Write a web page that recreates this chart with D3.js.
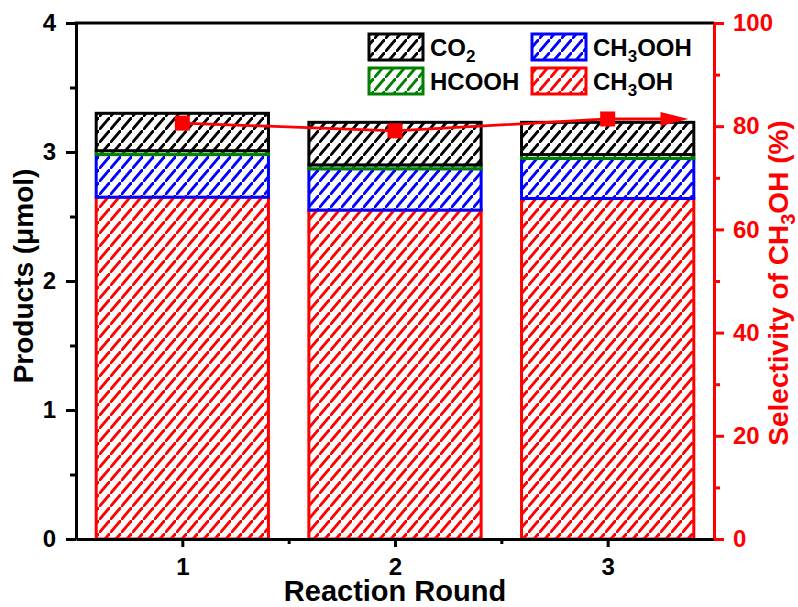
<!DOCTYPE html>
<html>
<head>
<meta charset="utf-8">
<script src="https://cdn.jsdelivr.net/npm/d3@7"></script>
<style>
  html, body { margin: 0; padding: 0; background: #fff; }
  svg { display: block; font-family: "Liberation Sans", Arial, sans-serif; font-weight: bold; }
</style>
</head>
<body>
<svg id="chart" width="798" height="607"></svg>
<script>
// Reaction rounds and product amounts (μmol), stacked bottom to top
const rounds = [1, 2, 3];
const ch3oh  = [2.65, 2.55, 2.64];
const ch3ooh = [0.33, 0.32, 0.31];
const hcooh  = [0.03, 0.03, 0.03];
const co2    = [0.29, 0.33, 0.25];
// CH3OH selectivity (%)
const selectivity = [80.6, 79.1, 81.4];

const yTicks = [0, 1, 2, 3, 4];
const yMinor = [0.5, 1.5, 2.5, 3.5];
const y2Ticks = [0, 20, 40, 60, 80, 100];
const y2Minor = [10, 30, 50, 70, 90];
const xMinor = [1.5, 2.5];

const series = [
  { key: "ch3oh",  values: ch3oh,  color: "#ff0000" },
  { key: "ch3ooh", values: ch3ooh, color: "#0000ff" },
  { key: "hcooh",  values: hcooh,  color: "#008000" },
  { key: "co2",    values: co2,    color: "#000000" }
];

const svg = d3.select("#chart");
const plotL = 76, plotR = 714, plotT = 23, plotB = 539;

const x = d3.scaleLinear().domain([0.5, 3.5]).range([plotL, plotR]);
const y = d3.scaleLinear().domain([0, 4]).range([plotB, plotT]);
const y2 = d3.scaleLinear().domain([0, 100]).range([plotB, plotT]);
const barW = 0.81;

// Diagonal hatch patterns, one per colour
const hw = 11, hh = 13;
const defs = svg.append("defs");
series.forEach(s => {
  const p = defs.append("pattern")
    .attr("id", "hatch-" + s.key)
    .attr("patternUnits", "userSpaceOnUse")
    .attr("width", hw).attr("height", hh);
  p.append("rect").attr("width", hw).attr("height", hh).attr("fill", "#fff");
  p.append("path")
    .attr("d", `M${-hw * 0.2},${hh * 1.2} L${hw * 1.2},${-hh * 0.2}`)
    .attr("stroke", s.color).attr("stroke-width", 2.8).attr("fill", "none");
});

// Stacked bars
const stackData = rounds.map((r, i) => {
  const o = { round: r };
  series.forEach(s => o[s.key] = s.values[i]);
  return o;
});
const stacked = d3.stack().keys(series.map(s => s.key))(stackData);

stacked.forEach((layer, li) => {
  const s = series[li];
  svg.append("g").selectAll("rect")
    .data(layer)
    .join("rect")
    .attr("x", d => x(d.data.round - barW / 2))
    .attr("width", d => x(d.data.round + barW / 2) - x(d.data.round - barW / 2))
    .attr("y", d => y(d[1]))
    .attr("height", d => y(d[0]) - y(d[1]))
    .attr("fill", "url(#hatch-" + s.key + ")")
    .attr("stroke", s.color)
    .attr("stroke-width", 3);
});

// Selectivity line with markers and trailing arrow
const red = "#ff0000";
const line = d3.line().x((d, i) => x(rounds[i])).y(d => y2(d));
svg.append("path")
  .datum(selectivity)
  .attr("d", line)
  .attr("fill", "none").attr("stroke", red).attr("stroke-width", 2.8);

const lastX = x(rounds[rounds.length - 1]);
const lastY = y2(selectivity[selectivity.length - 1]);
const tipX = x(3.38);
svg.append("line")
  .attr("x1", lastX).attr("y1", lastY)
  .attr("x2", tipX - 20).attr("y2", lastY)
  .attr("stroke", red).attr("stroke-width", 2.8);
svg.append("path")
  .attr("d", `M${tipX},${lastY} L${tipX - 28},${lastY - 7} L${tipX - 28},${lastY + 7} Z`)
  .attr("fill", red);

svg.append("g").selectAll("rect")
  .data(selectivity)
  .join("rect")
  .attr("x", (d, i) => x(rounds[i]) - 7.5)
  .attr("y", d => y2(d) - 7.5)
  .attr("width", 15).attr("height", 15)
  .attr("fill", red);

// Axes
const fs = 24;
function styleAxis(g, color) {
  g.select(".domain").attr("stroke", color).attr("stroke-width", 3);
  g.selectAll(".tick line").attr("stroke", color).attr("stroke-width", 3);
  g.selectAll(".tick text").attr("fill", color)
    .style("font-size", fs + "px").style("font-weight", "bold")
    .style("font-family", '"Liberation Sans", Arial, sans-serif');
}

// Top frame
svg.append("line")
  .attr("x1", plotL - 1.5).attr("x2", plotR).attr("y1", plotT).attr("y2", plotT)
  .attr("stroke", "#000").attr("stroke-width", 3);

// Bottom axis
const gx = svg.append("g").attr("transform", `translate(0,${plotB})`)
  .call(d3.axisBottom(x).tickValues(rounds).tickFormat(d3.format("d"))
    .tickSize(8).tickSizeOuter(0).tickPadding(11));
styleAxis(gx, "#000");
svg.append("g").attr("transform", `translate(0,${plotB})`)
  .call(d3.axisBottom(x).tickValues(xMinor).tickFormat("").tickSize(5).tickSizeOuter(0))
  .call(g => { g.select(".domain").remove(); g.selectAll("line").attr("stroke", "#000").attr("stroke-width", 3); });

// Left axis
const gy = svg.append("g").attr("transform", `translate(${plotL},0)`)
  .call(d3.axisLeft(y).tickValues(yTicks).tickFormat(d3.format("d"))
    .tickSize(10).tickSizeOuter(0).tickPadding(10));
styleAxis(gy, "#000");
svg.append("g").attr("transform", `translate(${plotL},0)`)
  .call(d3.axisLeft(y).tickValues(yMinor).tickFormat("").tickSize(6).tickSizeOuter(0))
  .call(g => { g.select(".domain").remove(); g.selectAll("line").attr("stroke", "#000").attr("stroke-width", 3); });

// Right axis
const gy2 = svg.append("g").attr("transform", `translate(${plotR},0)`)
  .call(d3.axisRight(y2).tickValues(y2Ticks).tickFormat(d3.format("d"))
    .tickSize(10).tickSizeOuter(0).tickPadding(9));
styleAxis(gy2, red);
svg.append("g").attr("transform", `translate(${plotR},0)`)
  .call(d3.axisRight(y2).tickValues(y2Minor).tickFormat("").tickSize(6).tickSizeOuter(0))
  .call(g => { g.select(".domain").remove(); g.selectAll("line").attr("stroke", red).attr("stroke-width", 3); });

// Axis titles
svg.append("text")
  .attr("x", (plotL + plotR) / 2).attr("y", 601)
  .attr("text-anchor", "middle").style("font-size", "29px").attr("fill", "#000")
  .text("Reaction Round");

svg.append("text")
  .attr("transform", "translate(33,276) rotate(-90)")
  .attr("text-anchor", "middle").style("font-size", "28px").attr("fill", "#000")
  .text("Products (μmol)");

const t2 = svg.append("text")
  .attr("transform", "translate(788,283) rotate(-90)")
  .attr("text-anchor", "middle").style("font-size", "28px").attr("fill", red);
t2.append("tspan").text("Selectivity of CH");
t2.append("tspan").attr("dy", 7).style("font-size", "20px").text("3");
t2.append("tspan").attr("dy", -7).text("OH (%)");

// Legend
const legendItems = [
  { key: "co2",    parts: [["CO", 0], ["2", 1]],                 bx: 369, by: 34 },
  { key: "ch3ooh", parts: [["CH", 0], ["3", 1], ["OOH", 0]],     bx: 532, by: 34 },
  { key: "hcooh",  parts: [["HCOOH", 0]],                         bx: 369, by: 68 },
  { key: "ch3oh",  parts: [["CH", 0], ["3", 1], ["OH", 0]],      bx: 532, by: 68 }
];
const colorOf = Object.fromEntries(series.map(s => [s.key, s.color]));
const lg = svg.append("g");
legendItems.forEach(it => {
  lg.append("rect")
    .attr("x", it.bx).attr("y", it.by).attr("width", 54).attr("height", 26)
    .attr("fill", "url(#hatch-" + it.key + ")")
    .attr("stroke", colorOf[it.key]).attr("stroke-width", 3);
  const t = lg.append("text")
    .attr("x", it.bx + 61).attr("y", it.by + 22)
    .style("font-size", "24px").attr("fill", "#000");
  let shifted = 0;
  it.parts.forEach(([str, sub]) => {
    const ts = t.append("tspan").text(str);
    if (sub && !shifted) { ts.attr("dy", 6).style("font-size", "17px"); shifted = 1; }
    else if (!sub && shifted) { ts.attr("dy", -6); shifted = 0; }
  });
});
</script>
</body>
</html>
